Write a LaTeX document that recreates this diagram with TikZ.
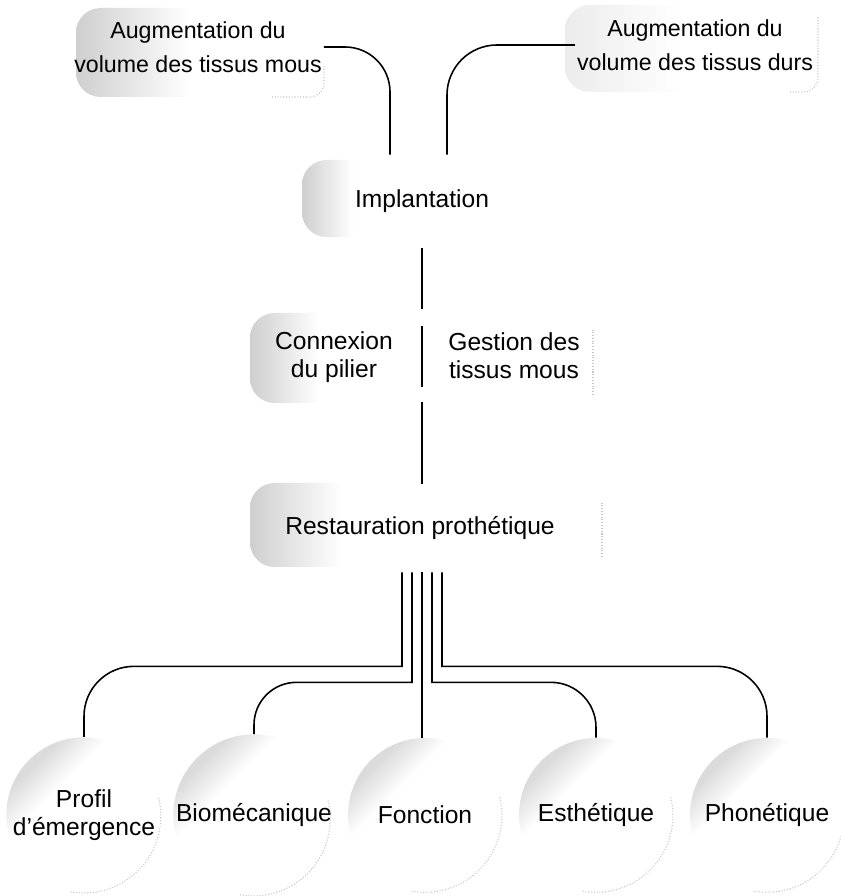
\documentclass[tikz,border=0pt]{standalone}
\usepackage{fontspec}
\setmainfont{Liberation Sans}
\usetikzlibrary{calc}

% grey speckle fading to white
\pgfdeclarehorizontalshading{haze}{100bp}{color(0bp)=(gray!38); color(25bp)=(gray!38); color(48bp)=(white); color(100bp)=(white)}
\pgfdeclarehorizontalshading{glow}{100bp}{color(0bp)=(gray!28); color(27bp)=(gray!28); color(38bp)=(white); color(100bp)=(white)}

\begin{document}
\begin{tikzpicture}[x=0.02cm,y=0.02cm,
  word/.style={align=center,font=\fontsize{14}{16}\selectfont,inner sep=1pt},
  upper/.style={word,font=\fontsize{13.2}{19.5}\selectfont},
  haze/.style={shading=haze,rounded corners=14pt},
  disc/.style={word,circle,minimum size=3.08cm,shading=glow,shading angle=-45},
  link/.style={line width=0.9pt},
  rim/.style={draw=gray!45,densely dotted,line width=0.6pt}]

\useasboundingbox (0,0) rectangle (841,896);

% Shaded patches behind the texts
\shade[haze] (76,799) rectangle (324,888);
\shade[haze,opacity=0.4] (565,804) rectangle (818,891);
\shade[haze] (302,659) rectangle (412,736);
\shade[haze] (250,493) rectangle (400,583);
\shade[haze] (250,329) rectangle (450,413);

% Faint dotted edges
\draw[rim,rounded corners=8pt] (272,799) -| (324,832);
\draw[rim,rounded corners=8pt] (790,804) -| (818,880);
\draw[rim] (593,501) -- (593,566);
\draw[rim] (602,339) -- (602,393);

% Top row
\node[upper] (mou) at (198,849) {Augmentation du\\volume des tissus mous};
\node[upper] (dur) at (695,851) {Augmentation du\\volume des tissus durs};

% Middle column
\node[word,minimum height=1.86cm] (impl) at (422,694.5) {Implantation};
\node[word] (pil) at (334,539) {Connexion\\du pilier};
\node[word,minimum height=1.86cm] (ges) at (514,540.5) {Gestion des\\tissus mous};
\node[word,minimum height=1.76cm] (rest) at (420,368) {Restauration prothétique};

% Bottom row
\node[disc] (prof) at (84,81) {Profil\\d’émergence};
\node[disc] (bio) at (254,81) {Biomécanique};
\node[disc] (fonc) at (425,81) {Fonction};
\node[disc] (esth) at (596,81) {Esthétique};
\node[disc] (phon) at (767,81) {Phonétique};

\foreach \aim in {prof,bio,fonc,esth,phon}
  \draw[rim] (\aim.-100) arc[start angle=-100,end angle=15,radius=77];

% Links from the top
\draw[link,rounded corners=0.9cm] (mou.east) -| ([xshift=-0.64cm]impl.north);
\draw[link,rounded corners=1cm] (dur.west) -| ([xshift=0.5cm]impl.north);

% Trunk
\draw[link] (impl) -- (impl |- ges.north);
\draw[link] ($(impl |- ges.north)+(0,-17)$) -- ($(impl |- ges.south)+(0,15)$);
\draw[link] (impl |- ges.south) -- (impl |- rest.north);

% Bundle to the five aims
\coordinate (stem) at (impl |- rest.south);
\draw[link] (stem) -- (stem |- fonc.north);
\foreach \aim/\dx/\dy/\r in {prof/-20/94/1cm, bio/-10/110/0.85cm, esth/10/110/0.9cm, phon/20/94/1cm}
  \draw[link] ($(stem)+(\dx,0)$) -- ($(stem)+(\dx,-\dy)$) [rounded corners=\r] -| (\aim.north);

\end{tikzpicture}
\end{document}
